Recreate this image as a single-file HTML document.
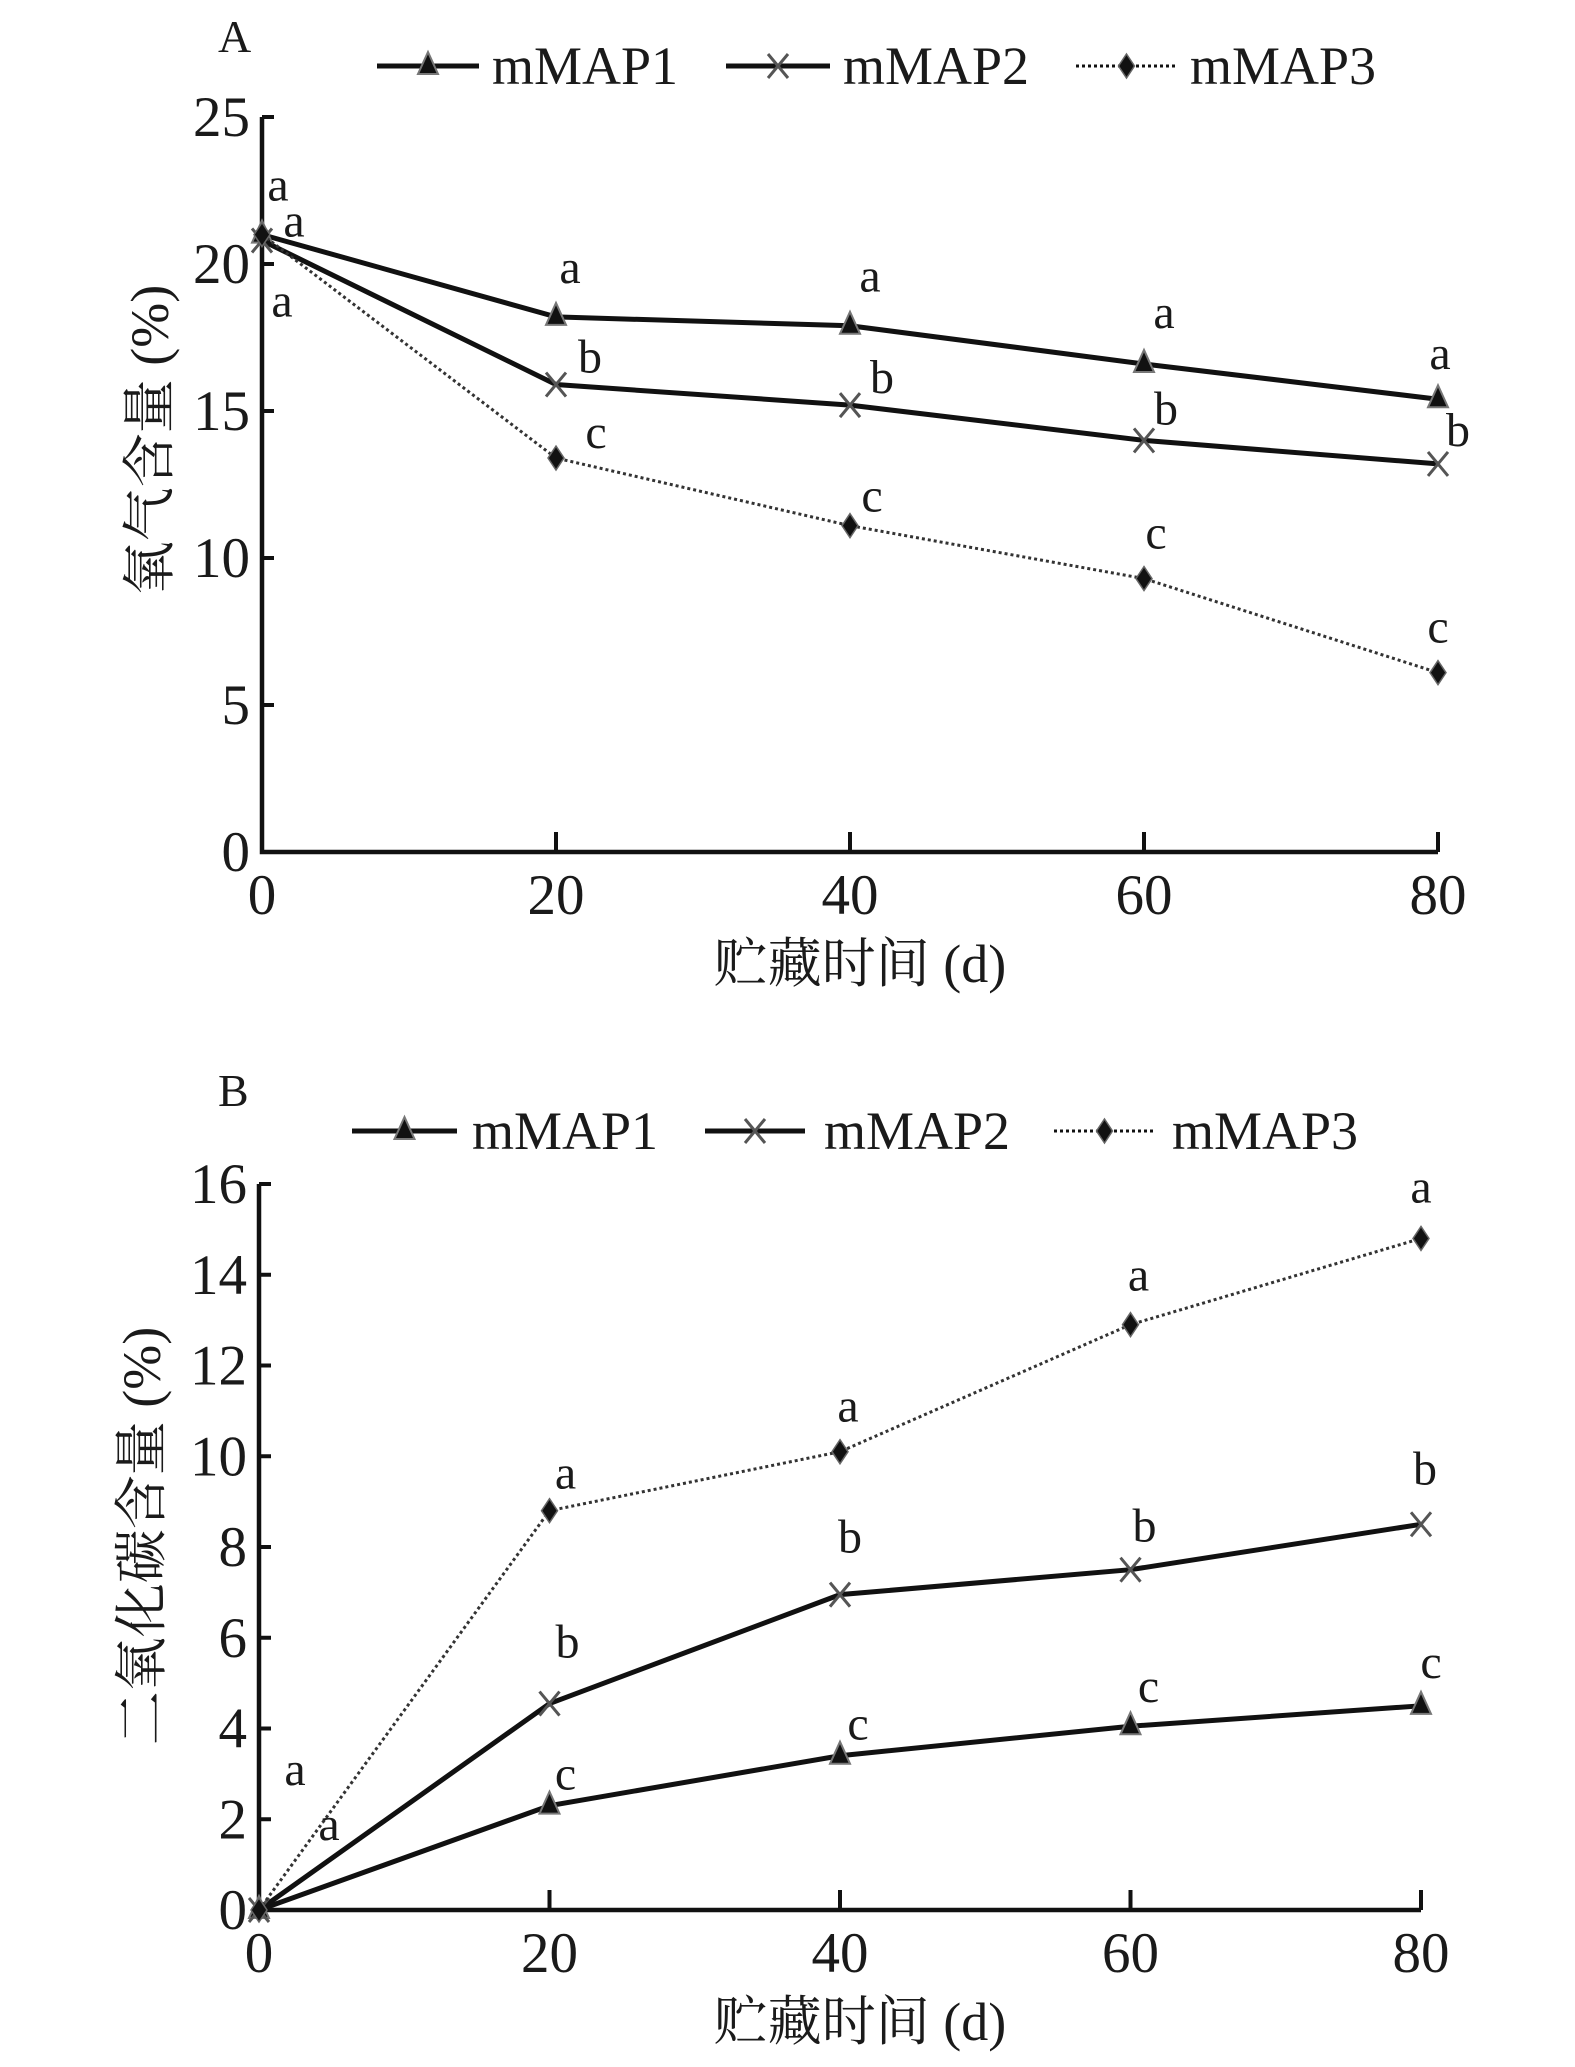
<!DOCTYPE html>
<html><head><meta charset="utf-8">
<style>
html,body{margin:0;padding:0;background:#fff;}
svg{display:block;}
text{font-family:"Liberation Serif","Noto Serif CJK SC",serif;fill:#1a1a1a;}
</style></head>
<body>
<svg id="chart" width="1575" height="2067" viewBox="0 0 1575 2067" xmlns="http://www.w3.org/2000/svg"></svg>
<script>
const days = [0, 20, 40, 60, 80];
const o2Map1 = [21, 18.2, 17.9, 16.6, 15.4];
const o2Map2 = [20.8, 15.9, 15.2, 14.0, 13.2];
const o2Map3 = [21, 13.4, 11.1, 9.3, 6.1];
const co2Map1 = [0, 2.3, 3.4, 4.05, 4.5];
const co2Map2 = [0, 4.55, 6.95, 7.5, 8.5];
const co2Map3 = [0, 8.8, 10.1, 12.9, 14.8];
const o2Letters1 = ['a','a','a','a','a'];
const o2Letters2 = ['a','b','b','b','b'];
const o2Letters3 = ['a','c','c','c','c'];
const co2Letters1 = ['a','c','c','c','c'];
const co2Letters2 = ['a','b','b','b','b'];
const co2Letters3 = ['','a','a','a','a'];
const o2Ticks = [0, 5, 10, 15, 20, 25];
const co2Ticks = [0, 2, 4, 6, 8, 10, 12, 14, 16];
const xTicks = [0, 20, 40, 60, 80];

const svg = document.getElementById('chart');
const NS = 'http://www.w3.org/2000/svg';
function mk(tag, attrs, parent){
  const e = document.createElementNS(NS, tag);
  for (const k in attrs) e.setAttribute(k, attrs[k]);
  (parent || svg).appendChild(e);
  return e;
}
function txt(s, x, y, size, anchor, parent){
  const t = mk('text', {x:x, y:y, 'font-size':size, 'text-anchor':anchor||'start'}, parent);
  t.textContent = s;
  return t;
}
function marker(type, x, y, g){
  if (type === 'tri') {
    mk('polygon', {points:`${x},${y-14} ${x-10},${y+8} ${x+10},${y+8}`, fill:'#111', stroke:'#777', 'stroke-width':2}, g);
  } else if (type === 'x') {
    mk('path', {d:`M${x-10},${y-12}L${x+10},${y+12}M${x+10},${y-12}L${x-10},${y+12}`, stroke:'#555', 'stroke-width':3, fill:'none'}, g);
  } else {
    mk('polygon', {points:`${x},${y-12} ${x+8},${y} ${x},${y+12} ${x-8},${y}`, fill:'#111', stroke:'#666', 'stroke-width':1.5}, g);
  }
}

function panel(cfg){
  const g = mk('g', {});
  
  
  const xs = v => cfg.x0 + (v - 0) / 80 * (cfg.x1 - cfg.x0);
  const ys = v => cfg.y0 - v / cfg.ymax * (cfg.y0 - cfg.y1);
  const ax = mk('path', {d:`M${cfg.x0},${cfg.y1}L${cfg.x0},${cfg.y0}L${cfg.x1},${cfg.y0}`, stroke:'#111', 'stroke-width':4.5, fill:'none'}, g);
  
  
  cfg.yticks.forEach(t => {
    mk('line', {x1:cfg.x0, x2:cfg.x0+12, y1:ys(t), y2:ys(t), stroke:'#111', 'stroke-width':4}, g);
    const l = txt(String(t), cfg.x0-12, ys(t)+19, 57, 'end', g);
    
    
  });
  xTicks.forEach(t => {
    if (t > 0) mk('line', {x1:xs(t), x2:xs(t), y1:cfg.y0, y2:cfg.y0-20, stroke:'#111', 'stroke-width':4}, g);
    const l = txt(String(t), xs(t), cfg.y0+62, 57, 'middle', g);
    
    
  });
  cfg.series.forEach(s => {
    const sg = mk('g', {}, g);
    
    
    const d = s.vals.map((v,i) => (i?'L':'M') + xs(days[i]) + ',' + ys(v)).join('');
    mk('path', {d:d, stroke: s.dot ? '#333' : '#111', 'stroke-width': s.dot ? 3 : 5, 'stroke-dasharray': s.dot ? '3,3' : 'none', fill:'none'}, sg);
    s.vals.forEach((v,i) => {
      marker(s.marker, xs(days[i]), ys(v), sg);
      if (!s.letters[i]) return;
      const off = s.off[i];
      const l = txt(s.letters[i], xs(days[i]) + off[0], ys(v) + off[1], 48, 'middle', sg);
      
      
    });
  });
  cfg.legend.forEach(L => {
    const lg = mk('g', {}, g);
    
    
    mk('line', {x1:L.x1, x2:L.x2, y1:cfg.ly, y2:cfg.ly, stroke:'#111', 'stroke-width': L.dot?3:5, 'stroke-dasharray': L.dot?'3,3':'none'}, lg);
    marker(L.marker, (L.x1+L.x2)/2, cfg.ly, lg);
    txt(L.label, L.tx, cfg.ly+18, 54, 'start', lg);
  });
  const p = txt(cfg.panel, cfg.px, cfg.py, 46, 'start', g);
  
  
  const xt = txt('贮藏时间 (d)', cfg.xtx, cfg.xty, 54, 'middle', g);
  
  
  const yt = txt(cfg.ytitle, 0, 0, 54, 'middle', g);
  yt.setAttribute('transform', `translate(${cfg.ytx},${cfg.yty}) rotate(-90)`);
  
  
}

panel({
  name:'panel-a-oxygen', x0:262, x1:1438, y0:852, y1:117, ymax:25, yticks:o2Ticks,
  panel:'A', px:218, py:52, xtx:860, xty:982, ytitle:'氧气含量 (%)', ytx:168, yty:440, ly:66,
  series:[
    {name:'series-mmap1', vals:o2Map1, marker:'tri', letters:o2Letters1, off:[[16,-34],[14,-34],[20,-34],[20,-36],[2,-30]]},
    {name:'series-mmap2', vals:o2Map2, marker:'x', letters:o2Letters2, off:[[32,-4],[34,-12],[32,-12],[22,-16],[20,-18]]},
    {name:'series-mmap3', vals:o2Map3, marker:'dia', dot:true, letters:o2Letters3, off:[[20,82],[40,-10],[22,-14],[12,-30],[0,-30]]}
  ],
  legend:[
    {x1:377, x2:479, tx:492, label:'mMAP1', marker:'tri'},
    {x1:726, x2:830, tx:843, label:'mMAP2', marker:'x'},
    {x1:1076, x2:1177, tx:1190, label:'mMAP3', marker:'dia', dot:true}
  ]
});
panel({
  name:'panel-b-co2', x0:259, x1:1421, y0:1910, y1:1184, ymax:16, yticks:co2Ticks,
  panel:'B', px:218, py:1106, xtx:860, xty:2040, ytitle:'二氧化碳含量 (%)', ytx:160, yty:1536, ly:1131,
  series:[
    {name:'series-mmap1', vals:co2Map1, marker:'tri', letters:co2Letters1, off:[[70,-70],[16,-16],[18,-16],[18,-24],[10,-28]]},
    {name:'series-mmap2', vals:co2Map2, marker:'x', letters:co2Letters2, off:[[36,-125],[18,-46],[10,-42],[14,-28],[4,-40]]},
    {name:'series-mmap3', vals:co2Map3, marker:'dia', dot:true, letters:co2Letters3, off:[[0,0],[16,-22],[8,-30],[8,-34],[0,-36]]}
  ],
  legend:[
    {x1:352, x2:457, tx:472, label:'mMAP1', marker:'tri'},
    {x1:705, x2:805, tx:824, label:'mMAP2', marker:'x'},
    {x1:1054, x2:1155, tx:1172, label:'mMAP3', marker:'dia', dot:true}
  ]
});
</script>
</body></html>
